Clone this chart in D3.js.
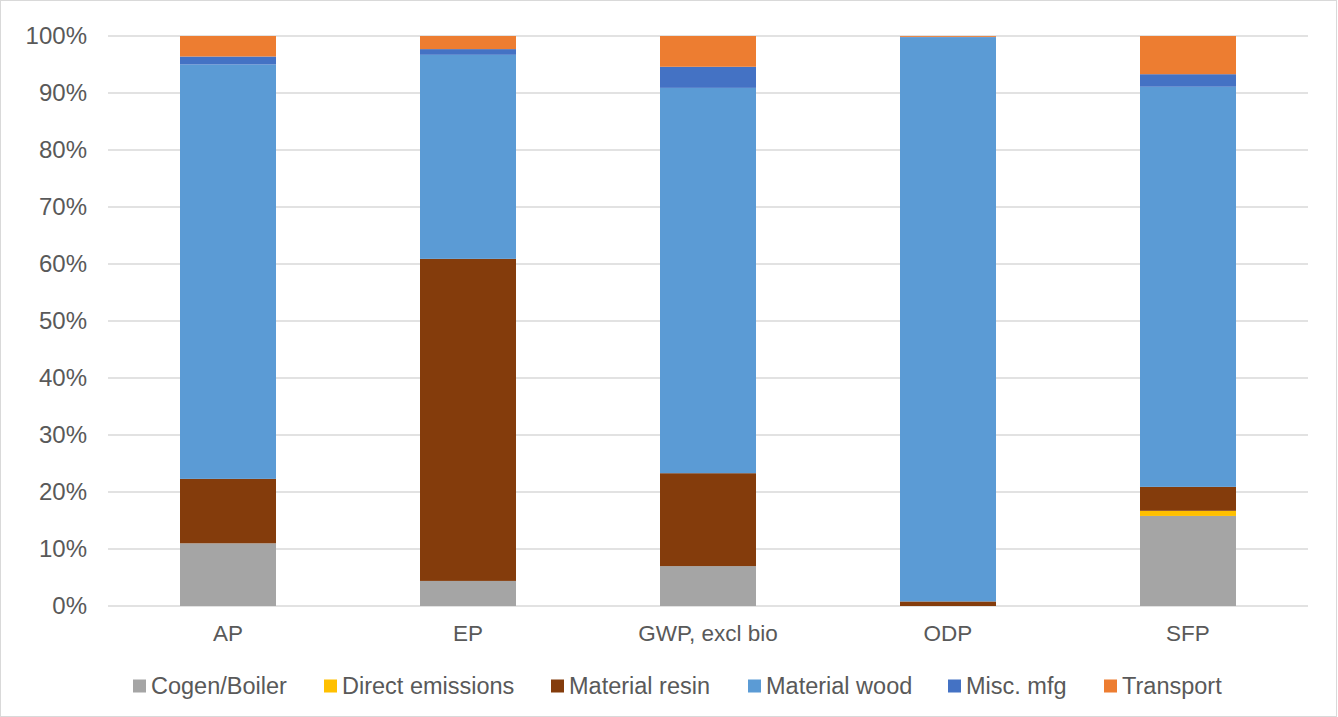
<!DOCTYPE html>
<html><head><meta charset="utf-8">
<script src="https://cdn.jsdelivr.net/npm/d3@7"></script>
<style>body{margin:0;background:#fff;} text{font-family:"Liberation Sans",Arial,sans-serif;fill:#595959;}</style>
</head><body>
<svg id="c" width="1338" height="717"></svg>
<script>
const categories = ["AP", "EP", "GWP, excl bio", "ODP", "SFP"];
const seriesNames = ["Cogen/Boiler", "Direct emissions", "Material resin", "Material wood", "Misc. mfg", "Transport"];
const seriesColors = ["#a5a5a5", "#ffc000", "#843c0c", "#5b9bd5", "#4472c4", "#ed7d31"];
const cogen     = [11.0, 4.4, 7.0, 0.0, 15.8];
const direct    = [0.0, 0.0, 0.0, 0.0, 0.9];
const resin     = [11.3, 56.5, 16.3, 0.8, 4.2];
const wood      = [72.7, 35.8, 67.6, 99.0, 70.2];
const misc      = [1.4, 1.0, 3.7, 0.05, 2.2];
const transport = [3.6, 2.3, 5.4, 0.15, 6.7];
const yTicks = [0,10,20,30,40,50,60,70,80,90,100];

const seriesVals = [cogen, direct, resin, wood, misc, transport];
const rows = categories.map((c,i)=>{const r={cat:c}; seriesNames.forEach((s,j)=>r[s]=seriesVals[j][i]); return r;});
const stack = d3.stack().keys(seriesNames).offset(d3.stackOffsetExpand)(rows);

const svg = d3.select("#c");
svg.append("rect").attr("x",0.5).attr("y",0.5).attr("width",1336).attr("height",716).attr("fill","#fff").attr("stroke","#d9d9d9");

const x = d3.scaleBand().domain(categories).range([108,1308]).paddingInner(0.6).paddingOuter(0.3);
const y = d3.scaleLinear().domain([0,1]).range([606,36]);

const g = svg.append("g");
g.selectAll("line.grid").data(yTicks).join("line")
  .attr("x1",108).attr("x2",1308)
  .attr("y1",d=>y(d/100)).attr("y2",d=>y(d/100))
  .attr("stroke","#d9d9d9").attr("stroke-width",1.5);

g.selectAll("text.yl").data(yTicks).join("text")
  .attr("x",87).attr("y",d=>y(d/100)).attr("dy","0.35em").attr("text-anchor","end")
  .attr("font-size","24px").text(d=>d+"%");

stack.forEach((s,j)=>{
  g.append("g").selectAll("rect").data(s).join("rect")
    .attr("x",d=>x(d.data.cat)).attr("width",x.bandwidth())
    .attr("y",d=>y(d[1])).attr("height",d=>Math.max(0,y(d[0])-y(d[1])))
    .attr("fill",seriesColors[j]);
});

g.selectAll("text.xl").data(categories).join("text")
  .attr("x",d=>x(d)+x.bandwidth()/2).attr("y",633).attr("dy","0.35em").attr("text-anchor","middle")
  .attr("font-size","22.5px").text(d=>d);

const legX = [133, 324, 551, 748, 948, 1104];
const leg = g.selectAll("g.leg").data(seriesNames).join("g").attr("transform",(d,i)=>`translate(${legX[i]},686)`);
leg.append("rect").attr("x",0).attr("y",-6.5).attr("width",13).attr("height",13).attr("fill",(d,i)=>seriesColors[i]);
leg.append("text").attr("x",18).attr("y",0).attr("dy","0.35em").attr("font-size","23.5px").text(d=>d);
</script>
</body></html>
